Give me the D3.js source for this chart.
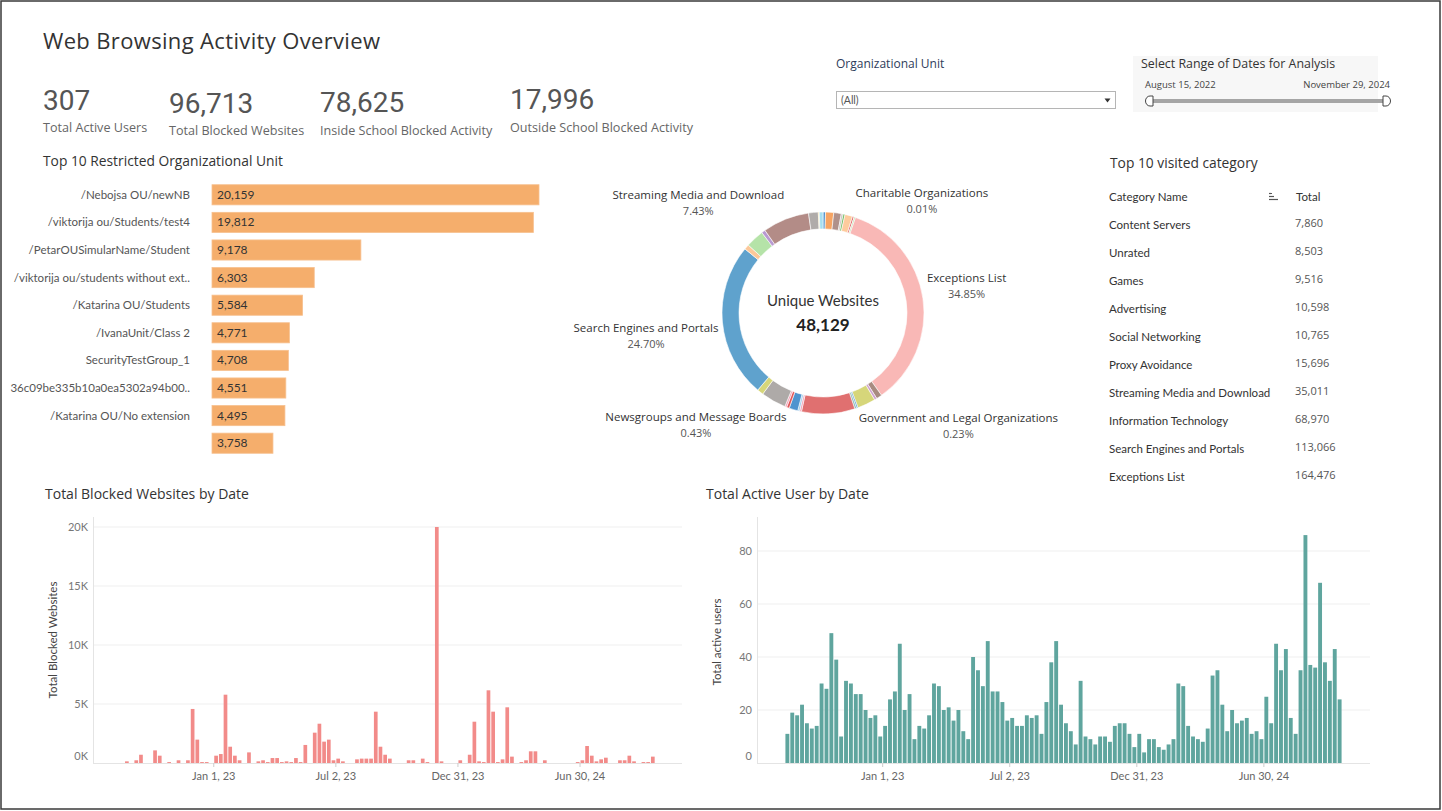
<!DOCTYPE html>
<html><head><meta charset="utf-8">
<script src="https://cdn.jsdelivr.net/npm/d3@7"></script>
<style>
html,body{margin:0;padding:0;background:#fff;}
svg{display:block;}
</style></head><body>
<svg id="c" width="1442" height="811"></svg>
<script>
// ---------------- DATA ----------------
const kpiValues = [307, 96713, 78625, 17996];
const kpiLabels = ["Total Active Users", "Total Blocked Websites", "Inside School Blocked Activity", "Outside School Blocked Activity"];

const orgUnits = ["/Nebojsa OU/newNB", "/viktorija ou/Students/test4", "/PetarOUSimularName/Student",
  "/viktorija ou/students without ext..", "/Katarina OU/Students", "/IvanaUnit/Class 2",
  "SecurityTestGroup_1", "36c09be335b10a0ea5302a94b00..", "/Katarina OU/No extension", ""];
const orgBlocked = [20159, 19812, 9178, 6303, 5584, 4771, 4708, 4551, 4495, 3758];

const donutCategories = ["Business and Economy", "Games", "Shopping", "Education", "Health", "Entertainment",
  "Job Search", "Charitable Organizations", "Alcohol and Tobacco", "Exceptions List", "Personal Sites",
  "Dating", "Information Technology", "Government and Legal Organizations", "Travel", "Content Servers",
  "Fashion", "Reference", "Web Hosting", "Newsgroups and Message Boards", "Lifestyle", "Computer and Internet Info",
  "Advertising", "Search Engines and Portals", "Food and Dining", "Social Networking", "Music",
  "Streaming Media and Download", "Unrated", "Sports", "Proxy Avoidance"];
const donutPercents = [0.40, 1.30, 1.20, 0.30, 0.30, 1.20, 0.30, 0.01, 0.20, 34.85, 0.90, 0.40, 2.90, 0.23, 0.30,
  8.50, 0.30, 0.30, 1.40, 0.43, 0.30, 4.00, 1.00, 24.70, 0.80, 2.90, 0.60, 7.43, 1.55, 0.15, 0.59];
const donutColors = ["#4f94cf", "#f6a463", "#b0918b", "#c9c3c1", "#6cba5e", "#fdcb9d", "#e36b6b", "#8cd17d",
  "#a9d99b", "#f9b8b6", "#a88b80", "#cfa3cf", "#d6d67a", "#4f94cf", "#86bcb6", "#e07070", "#f3a0b5",
  "#a0cbe8", "#4f94cf", "#e15759", "#f3a0b5", "#aeaaa8", "#d6d67a", "#5fa2cd", "#fcc899", "#b5e3a8",
  "#b89ad1", "#b38c87", "#b0acaa", "#f1ce63", "#a6dff0"];
const donutLabeled = ["Charitable Organizations", "Exceptions List", "Government and Legal Organizations",
  "Newsgroups and Message Boards", "Search Engines and Portals", "Streaming Media and Download"];
const uniqueWebsites = 48129;

const tableCategories = ["Content Servers", "Unrated", "Games", "Advertising", "Social Networking", "Proxy Avoidance",
  "Streaming Media and Download", "Information Technology", "Search Engines and Portals", "Exceptions List"];
const tableTotals = [7860, 8503, 9516, 10598, 10765, 15696, 35011, 68970, 113066, 164476];

const firstWeek = "2022-08-14";
const blockedByWeek = [0, 140, 0, 230, 700, 0, 0, 1070, 620, 0,
  80, 0, 230, 0, 230, 4580, 1980, 80, 80, 0,
  620, 760, 5790, 1380, 620, 230, 0, 900, 0, 140,
  230, 80, 420, 420, 80, 140, 80, 420, 80, 1530,
  0, 2570, 3330, 1810, 1980, 230, 370, 140, 0, 0,
  310, 370, 370, 370, 4350, 1380, 700, 370, 0, 0,
  0, 230, 230, 0, 370, 80, 0, 20000, 140, 0,
  0, 0, 230, 0, 700, 3500, 140, 80, 6160, 4350,
  80, 310, 4720, 540, 0, 80, 230, 990, 990, 0,
  230, 0, 0, 0, 0, 0, 0, 80, 230, 1440,
  620, 140, 310, 450, 0, 0, 230, 230, 620, 140,
  0, 80, 80, 540];
const activeByWeek = [11, 19, 18, 22, 15, 13, 14, 30, 28, 49,
  39, 10, 31, 30, 26, 26, 20, 17, 18, 10,
  14, 24, 27, 45, 20, 26, 9, 14, 13, 18,
  30, 29, 20, 21, 16, 20, 12, 9, 40, 35,
  29, 46, 27, 27, 23, 16, 17, 14, 14, 18,
  17, 18, 11, 23, 38, 46, 22, 15, 12, 7,
  31, 10, 9, 7, 10, 10, 8, 14, 15, 15,
  11, 6, 11, 4, 9, 9, 6, 5, 7, 9,
  30, 29, 14, 10, 9, 8, 13, 33, 35, 22,
  12, 20, 15, 16, 17, 11, 12, 9, 25, 15,
  45, 35, 43, 17, 11, 35, 86, 37, 36, 68,
  38, 31, 43, 24];
const dateDomain = ["2022-07-05", "2024-11-29"];
const dateTicks = ["2023-01-01", "2023-07-02", "2023-12-31", "2024-06-30"];
const blockedTicks = [0, 5000, 10000, 15000, 20000];
const activeTicks = [0, 20, 40, 60, 80];
const dateRangeLabels = ["August 15, 2022", "November 29, 2024"];

// ---------------- STYLE ----------------
const F_HEAD = "'Open Sans', 'Noto Sans', sans-serif";
const F_BOOK = "Lato, 'Open Sans', sans-serif";
const F_NUM = "Roboto, 'Open Sans', sans-serif";

const svg = d3.select("#c");
const parse = d3.timeParse("%Y-%m-%d");
const fmtInt = d3.format(",");

// frame
svg.append("rect").attr("x", 1).attr("y", 1).attr("width", 1439).attr("height", 808)
  .attr("fill", "#fff").attr("stroke", "#3a3a3a").attr("stroke-width", 1.5);

// title
svg.append("text").attr("x", 43).attr("y", 49).text("Web Browsing Activity Overview")
  .attr("font-family", F_HEAD).attr("font-size", 22).attr("letter-spacing", 0.35).attr("fill", "#333");

// KPIs
const kpiX = [43, 169, 320, 510];
const kpiNumY = [110, 113, 112, 109];
const kpiLabY = [132, 135, 135, 132];
kpiValues.forEach((v, i) => {
  svg.append("text").attr("x", kpiX[i]).attr("y", kpiNumY[i]).text(fmtInt(v))
    .attr("font-family", F_NUM).attr("font-size", 28).attr("fill", "#555");
  svg.append("text").attr("x", kpiX[i]).attr("y", kpiLabY[i]).text(kpiLabels[i])
    .attr("font-family", F_HEAD).attr("font-size", 12.6).attr("fill", "#666");
});

// Filters
svg.append("text").attr("x", 836).attr("y", 68).text("Organizational Unit")
  .attr("font-family", F_HEAD).attr("font-size", 12).attr("fill", "#2e3c5a");
svg.append("rect").attr("x", 836.5).attr("y", 91.5).attr("width", 279).attr("height", 17)
  .attr("fill", "#fff").attr("stroke", "#b5b5b5");
svg.append("text").attr("x", 841).attr("y", 104).text("(All)")
  .attr("font-family", F_BOOK).attr("font-size", 10.5).attr("fill", "#555");
svg.append("path").attr("d", "M1104.5,98.5 L1110.5,98.5 L1107.5,102.5 Z").attr("fill", "#333");

svg.append("rect").attr("x", 1133).attr("y", 56).attr("width", 245).attr("height", 56).attr("fill", "#f7f7f7");
svg.append("text").attr("x", 1141).attr("y", 68).text("Select Range of Dates for Analysis")
  .attr("font-family", F_HEAD).attr("font-size", 12.4).attr("fill", "#333");
svg.append("text").attr("x", 1145).attr("y", 88).text(dateRangeLabels[0])
  .attr("font-family", F_HEAD).attr("font-size", 9.5).attr("fill", "#444");
svg.append("text").attr("x", 1390).attr("y", 88).attr("text-anchor", "end").text(dateRangeLabels[1])
  .attr("font-family", F_HEAD).attr("font-size", 9.5).attr("fill", "#444");
svg.append("rect").attr("x", 1150).attr("y", 99).attr("width", 235).attr("height", 4).attr("fill", "#a5a5a5");
svg.append("path").attr("d", "M1153,96 L1153,106 L1150,106 A4.5,5 0 0 1 1150,96 Z")
  .attr("fill", "#fff").attr("stroke", "#444").attr("stroke-width", 1);
svg.append("path").attr("d", "M1383,96 L1383,106 L1386,106 A4.5,5 0 0 0 1386,96 Z")
  .attr("fill", "#fff").attr("stroke", "#444").attr("stroke-width", 1);

// ---------------- Bar chart: Top 10 Restricted Org Units ----------------
svg.append("text").attr("x", 43).attr("y", 166).text("Top 10 Restricted Organizational Unit")
  .attr("font-family", F_HEAD).attr("font-size", 13.8).attr("font-weight", 500).attr("fill", "#333");
const by = d3.scaleBand().domain(d3.range(orgUnits.length)).range([181, 457]).paddingInner(0.27).paddingOuter(0.135);
const bx = d3.scaleLinear().domain([0, d3.max(orgBlocked)]).range([212, 539]);
const gBar = svg.append("g");
orgBlocked.forEach((v, i) => {
  gBar.append("rect").attr("x", bx(0)).attr("y", by(i)).attr("width", bx(v) - bx(0)).attr("height", by.bandwidth())
    .attr("fill", "#f5ae6c").attr("stroke", "#f7c08f").attr("stroke-width", 0.8);
  gBar.append("text").attr("x", bx(0) + 5).attr("y", by(i) + by.bandwidth() / 2 + 4).text(fmtInt(v))
    .attr("font-family", F_BOOK).attr("font-size", 12).attr("fill", "#333");
  gBar.append("text").attr("x", 190).attr("y", by(i) + by.bandwidth() / 2 + 4).attr("text-anchor", "end")
    .text(orgUnits[i]).attr("font-family", F_BOOK).attr("font-size", 11.5).attr("fill", "#555");
});

// ---------------- Donut ----------------
const cx = 823, cy = 313, outerR = 101, innerR = 84;
const donutData = donutCategories.map((n, i) => ({ name: n, p: donutPercents[i], color: donutColors[i] }));
const pie = d3.pie().sort(null).value(d => d.p);
const arcGen = d3.arc().innerRadius(innerR).outerRadius(outerR);
const arcs = pie(donutData);
const gD = svg.append("g").attr("transform", `translate(${cx},${cy})`);
gD.selectAll("path").data(arcs).join("path").attr("d", arcGen)
  .attr("fill", d => d.data.color).attr("stroke", "#fff").attr("stroke-width", 0.6);
svg.append("text").attr("x", cx).attr("y", cy - 7).attr("text-anchor", "middle").text("Unique Websites")
  .attr("font-family", F_BOOK).attr("font-size", 15).attr("fill", "#333");
svg.append("text").attr("x", cx).attr("y", cy + 18).attr("text-anchor", "middle").text(fmtInt(uniqueWebsites))
  .attr("font-family", F_BOOK).attr("font-size", 17).attr("font-weight", 700).attr("fill", "#222");
arcs.forEach(a => {
  if (!donutLabeled.includes(a.data.name)) return;
  const mid = (a.startAngle + a.endAngle) / 2;
  const r = outerR + 4;
  const px = cx + r * Math.sin(mid), py = cy - r * Math.cos(mid);
  const g = svg.append("g");
  const t1 = g.append("text").text(a.data.name).attr("font-family", F_HEAD).attr("font-size", 11.5)
    .attr("fill", "#333").attr("text-anchor", "middle");
  const t2 = g.append("text").text(d3.format(".2f")(a.data.p) + "%").attr("font-family", F_HEAD)
    .attr("font-size", 11).attr("fill", "#555").attr("text-anchor", "middle");
  const w = Math.max(t1.node().getComputedTextLength(), t2.node().getComputedTextLength());
  const right = Math.sin(mid) >= 0;
  const bxx = right ? px + w / 2 : px - w / 2;
  const c = Math.cos(mid);
  // above the anchor when the slice points upward, below when it points downward
  const base1 = c > 0 ? py - 16 : py + 10;
  t1.attr("x", bxx).attr("y", base1);
  t2.attr("x", bxx).attr("y", base1 + 16);
});

// ---------------- Table ----------------
svg.append("text").attr("x", 1110).attr("y", 168).text("Top 10 visited category")
  .attr("font-family", F_HEAD).attr("font-size", 13.8).attr("fill", "#333");
svg.append("text").attr("x", 1109).attr("y", 201).text("Category Name")
  .attr("font-family", F_BOOK).attr("font-size", 11.5).attr("fill", "#333");
svg.append("text").attr("x", 1296).attr("y", 201).text("Total")
  .attr("font-family", F_BOOK).attr("font-size", 11.5).attr("fill", "#333");
[[1269, 1272, 193.5], [1269, 1274, 196.5], [1269, 1278, 199.5]].forEach(l => {
  svg.append("line").attr("x1", l[0]).attr("x2", l[1]).attr("y1", l[2]).attr("y2", l[2])
    .attr("stroke", "#555").attr("stroke-width", 1.2);
});
const ty = d3.scaleBand().domain(d3.range(tableCategories.length)).range([211, 491]);
tableCategories.forEach((n, i) => {
  const yc = ty(i) + ty.bandwidth() / 2;
  svg.append("text").attr("x", 1109).attr("y", yc + 4).text(n)
    .attr("font-family", F_BOOK).attr("font-size", 11.5).attr("fill", "#333");
  svg.append("text").attr("x", 1295).attr("y", yc + 2).text(fmtInt(tableTotals[i]))
    .attr("font-family", F_HEAD).attr("font-size", 11).attr("fill", "#555");
});

// ---------------- Time bar charts ----------------
const weekStart0 = parse(firstWeek);
function weekCenter(i) { return d3.timeHour.offset(d3.timeWeek.offset(weekStart0, i), 84); }
const tickFmt = d3.timeFormat("%b %-d, %y");

function timeChart(opt) {
  const x = d3.scaleTime().domain(dateDomain.map(parse)).range([opt.left, opt.right]);
  const y = d3.scaleLinear().domain([0, opt.ticks[opt.ticks.length - 1]]).range([opt.bottom, opt.topTick]);
  const g = svg.append("g");
  g.append("text").attr("x", opt.titleX).attr("y", 499).text(opt.title)
    .attr("font-family", F_HEAD).attr("font-size", 14).attr("fill", "#333");
  opt.ticks.forEach(t => {
    if (t === 0) return;
    g.append("line").attr("x1", opt.left).attr("x2", opt.right).attr("y1", y(t)).attr("y2", y(t))
      .attr("stroke", "#efefef").attr("stroke-width", 1);
  });
  g.append("line").attr("x1", opt.left).attr("x2", opt.right).attr("y1", opt.bottom + 0.5).attr("y2", opt.bottom + 0.5)
    .attr("stroke", "#e4e4e4");
  g.append("line").attr("x1", opt.left + 0.5).attr("x2", opt.left + 0.5).attr("y1", opt.top).attr("y2", opt.bottom)
    .attr("stroke", "#e4e4e4");
  opt.ticks.forEach(t => {
    g.append("text").attr("x", opt.left - 5).attr("y", y(t) + 4 - (t === 0 ? 7 : 0)).attr("text-anchor", "end")
      .text(opt.fmt(t)).attr("font-family", F_BOOK).attr("font-size", 11).attr("fill", "#777");
  });
  dateTicks.map(parse).forEach(d => {
    g.append("line").attr("x1", x(d)).attr("x2", x(d)).attr("y1", opt.bottom).attr("y2", opt.bottom + 4)
      .attr("stroke", "#ccc");
    g.append("text").attr("x", x(d)).attr("y", 780).attr("text-anchor", "middle").text(tickFmt(d))
      .attr("font-family", F_BOOK).attr("font-size", 11).attr("fill", "#666");
  });
  g.append("text").attr("transform", `translate(${opt.axisX},${opt.axisY}) rotate(-90)`).attr("text-anchor", "middle")
    .text(opt.axisTitle).attr("font-family", F_BOOK).attr("font-size", 11.5).attr("fill", "#444");
  const step = x(d3.timeWeek.offset(weekStart0, 1)) - x(weekStart0);
  const bw = step - 1;
  opt.values.forEach((v, i) => {
    if (!v) return;
    const xc = x(weekCenter(i));
    g.append("rect").attr("x", xc - bw / 2).attr("y", y(v)).attr("width", bw).attr("height", opt.bottom - y(v))
      .attr("fill", opt.color);
  });
}
timeChart({ left: 93, right: 682, bottom: 763, topTick: 527, top: 517, ticks: blockedTicks, values: blockedByWeek,
  color: "#f28b89", fmt: t => (t / 1000) + "K", title: "Total Blocked Websites by Date", titleX: 45,
  axisTitle: "Total Blocked Websites", axisX: 57, axisY: 640 });
timeChart({ left: 757, right: 1370, bottom: 763, topTick: 551, top: 517, ticks: activeTicks, values: activeByWeek,
  color: "#5fa59e", fmt: t => String(t), title: "Total Active User by Date", titleX: 706,
  axisTitle: "Total active users", axisX: 721, axisY: 642 });
</script>
</body></html>
